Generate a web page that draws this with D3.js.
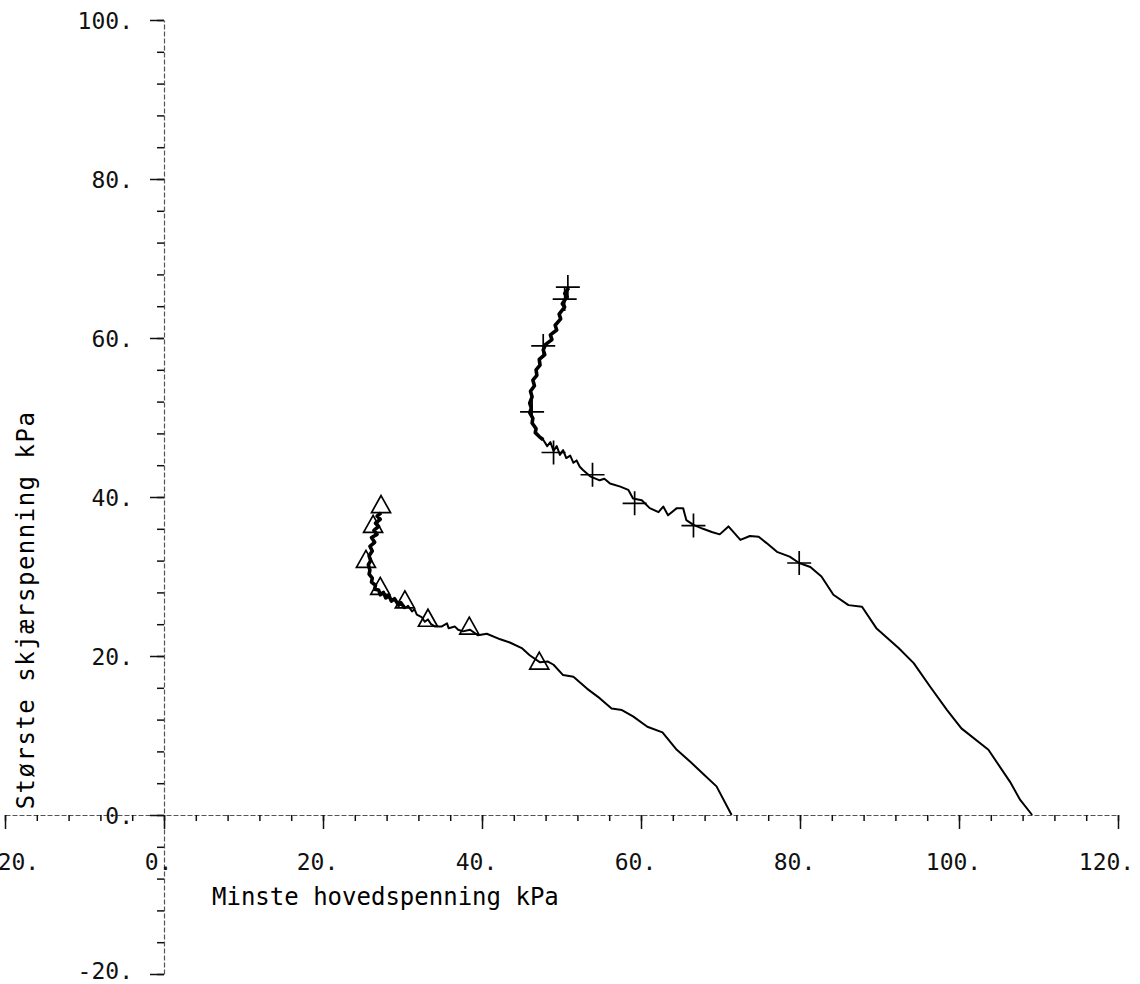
<!DOCTYPE html>
<html>
<head>
<meta charset="utf-8">
<script src="https://cdn.jsdelivr.net/npm/d3@7"></script>
<style>
  body { margin: 0; background: #fff; }
  svg { display: block; font-family: 'DejaVu Sans Mono', 'Liberation Mono', monospace; }
  .axis .domain { stroke: #555; stroke-width: 1.2; stroke-dasharray: 5 2; }
  .axis line { stroke: #111; stroke-width: 1.5; }
  .axis text { fill: #111; font-size: 23px; font-family: 'DejaVu Sans Mono', monospace; }
  .curve { fill: none; stroke: #000; stroke-width: 2; stroke-linejoin: round; }
  .curve.dense { stroke-width: 3.6; }
  .marker { fill: none; stroke: #000; stroke-width: 1.7; }
</style>
</head>
<body>
<div class="chart-holder"></div>
<script>
let width = 1140
let height = 984

// curve with triangle markers (x = minste hovedspenning, y = største skjærspenning)
let triX = [27.3,26.8,27.2,26.6,27.0,26.4,26.8,26.1,26.5,25.9,26.2,25.8,26.0,25.7,25.9,25.8,26.2,26.1,26.6,26.5,27.0,27.2,27.6,27.9,28.3,28.6,29.0,29.5,29.8,30.3,30.7,31.2,31.5,31.8,32.4,32.8,33.2,33.6,34.1,34.9,35.6,35.8,36.6,37.0,37.6,38.5,39.5,40.6,42.3,43.5,45.0,46.0,47.3,48.3,49.0,50.2,51.5,53.2,54.8,56.3,57.6,59.0,60.8,62.7,64.5,66.2,67.8,69.5,71.4]
let triY = [38.0,37.6,37.2,36.7,36.3,35.8,35.3,34.9,34.3,33.8,33.2,32.6,32.0,31.5,30.8,30.3,29.8,29.3,28.9,28.4,28.3,27.7,28.0,27.3,27.6,26.9,27.2,26.4,26.7,26.0,26.3,25.6,25.9,25.2,24.9,24.3,24.6,24.0,23.7,23.7,24.1,23.5,23.7,23.3,23.1,23.3,22.6,22.8,22.1,21.7,21.0,20.1,19.2,19.3,18.9,17.6,17.4,15.9,14.7,13.4,13.2,12.4,11.1,10.4,8.2,6.7,5.2,3.6,0]

// curve with plus markers
let plusX = [50.9,50.4,50.7,50.1,50.4,49.7,49.9,49.2,49.4,48.6,48.8,48.0,47.7,47.9,47.2,47.3,46.8,46.9,46.4,46.6,46.1,46.3,46.0,46.2,46.0,46.4,46.3,46.8,46.7,47.2,47.7,48.2,48.6,49.0,49.4,49.8,50.2,50.6,51.1,51.5,51.9,52.3,52.7,53.6,54.8,55.4,56.1,57.4,58.4,59.0,60.1,61.1,62.2,62.8,63.4,64.5,65.3,65.7,66.6,67.8,68.9,69.9,71.0,72.5,73.7,74.8,75.8,77.1,78.7,79.9,81.3,82.7,84.2,86.1,87.8,89.6,92.4,94.3,96.4,98.5,100.3,103.7,106.4,107.7,109.2]
let plusY = [66.3,65.6,65.2,64.3,63.9,63.0,62.4,61.6,61.0,60.4,59.8,59.2,58.5,57.9,57.3,56.6,56.0,55.3,54.7,54.0,53.3,52.6,51.8,51.2,50.6,49.9,49.3,48.6,48.1,47.6,47.2,46.4,46.9,45.8,46.4,45.3,45.9,44.9,45.2,44.3,44.6,43.8,43.4,42.6,42.1,42.3,41.7,41.3,40.9,39.8,39.6,38.6,38.1,38.8,37.7,38.6,38.6,37.1,36.5,36.0,35.6,35.3,36.3,34.6,35.1,35.0,34.2,33.1,32.5,31.7,31.2,30.0,27.7,26.4,26.2,23.5,21.0,19.1,16.1,13.2,10.9,8.2,4.2,1.9,0]

// how many leading points of each curve are plotted densely (thick trace)
let triDense = 30
let plusDense = 31

// symbol positions
let triMarkX = [27.3,26.3,25.4,27.2,30.3,33.2,38.4,47.2]
let triMarkY = [38.8,36.3,31.9,28.5,26.8,24.5,23.5,19.1]
let plusMarkX = [50.8,50.4,47.7,46.3,49.0,53.9,59.2,66.6,79.9]
let plusMarkY = [66.4,64.9,59.0,50.7,45.6,42.8,39.2,36.4,31.7]

let majorTicks = d3.range(-20, 121, 20)
let xMinor = d3.range(-20, 121, 4)
let yMinor = d3.range(-20, 101, 4)
let yMajor = d3.range(-20, 101, 20)

let xLabel = 'Minste hovedspenning kPa'
let yLabel = 'Største skjærspenning kPa'

let x = d3.scaleLinear().domain([-20, 120]).range([5, 1118])
let y = d3.scaleLinear().domain([-20, 100]).range([974, 20])

let svg = d3.select('.chart-holder')
    .append('svg')
        .attr('width', width)
        .attr('height', height)

let fmt = d => d + '.'

// minor ticks
svg.append('g').attr('class', 'axis')
    .attr('transform', 'translate(0,' + y(0) + ')')
    .call(d3.axisBottom(x).tickValues(xMinor).tickSize(6).tickSizeOuter(0).tickFormat(''))
svg.append('g').attr('class', 'axis')
    .attr('transform', 'translate(' + x(0) + ',0)')
    .call(d3.axisLeft(y).tickValues(yMinor).tickSize(7).tickSizeOuter(0).tickFormat(''))

// major ticks + labels
let xAxis = svg.append('g').attr('class', 'axis')
    .attr('transform', 'translate(0,' + y(0) + ')')
    .call(d3.axisBottom(x).tickValues(majorTicks).tickSize(14).tickSizeOuter(0).tickFormat(fmt))
xAxis.select('.domain').remove()
xAxis.selectAll('text')
    .attr('y', 47).attr('dy', '0.35em')
    .attr('dx', d => d == 120 ? -12 : d == -20 ? 6 : -6)

let yAxis = svg.append('g').attr('class', 'axis')
    .attr('transform', 'translate(' + x(0) + ',0)')
    .call(d3.axisLeft(y).tickValues(yMajor).tickSize(14).tickSizeOuter(0).tickFormat(fmt))
yAxis.select('.domain').remove()
yAxis.selectAll('text')
    .attr('x', -31)
    .attr('dy', d => d == -20 ? '0.2em' : '0.35em')

// axis titles
svg.append('text')
    .attr('x', 212).attr('y', 897)
    .attr('dy', '0.35em')
    .style('font-size', '24px')
    .text(xLabel)

svg.append('text')
    .attr('transform', 'translate(26,' + 610 + ') rotate(-90)')
    .attr('text-anchor', 'middle')
    .attr('dy', '0.35em')
    .style('font-size', '24px')
    .style('letter-spacing', '1.5px')
    .text(yLabel)

// curves
let line = d3.line()
    .x(d => x(d[0]))
    .y(d => y(d[1]))

let triPts = d3.zip(triX, triY)
let plusPts = d3.zip(plusX, plusY)

svg.append('path').attr('class', 'curve')
    .attr('d', line(triPts))
svg.append('path').attr('class', 'curve')
    .attr('d', line(plusPts))
svg.append('path').attr('class', 'curve dense')
    .attr('d', line(triPts.slice(0, triDense)))
svg.append('path').attr('class', 'curve dense')
    .attr('d', line(plusPts.slice(0, plusDense)))

// symbols
svg.append('g')
    .selectAll('path')
    .data(d3.zip(triMarkX, triMarkY))
    .enter()
    .append('path').attr('class', 'marker')
        .attr('d', d => {
            let cx = x(d[0]), cy = y(d[1])
            return 'M' + cx + ',' + (cy - 11) + 'L' + (cx + 9.5) + ',' + (cy + 6) + 'L' + (cx - 9.5) + ',' + (cy + 6) + 'Z'
        })

svg.append('g')
    .selectAll('path')
    .data(d3.zip(plusMarkX, plusMarkY))
    .enter()
    .append('path').attr('class', 'marker')
        .attr('d', d => {
            let cx = x(d[0]), cy = y(d[1])
            return 'M' + (cx - 12) + ',' + cy + 'H' + (cx + 12) + 'M' + cx + ',' + (cy - 12) + 'V' + (cy + 12)
        })
</script>
</body>
</html>
